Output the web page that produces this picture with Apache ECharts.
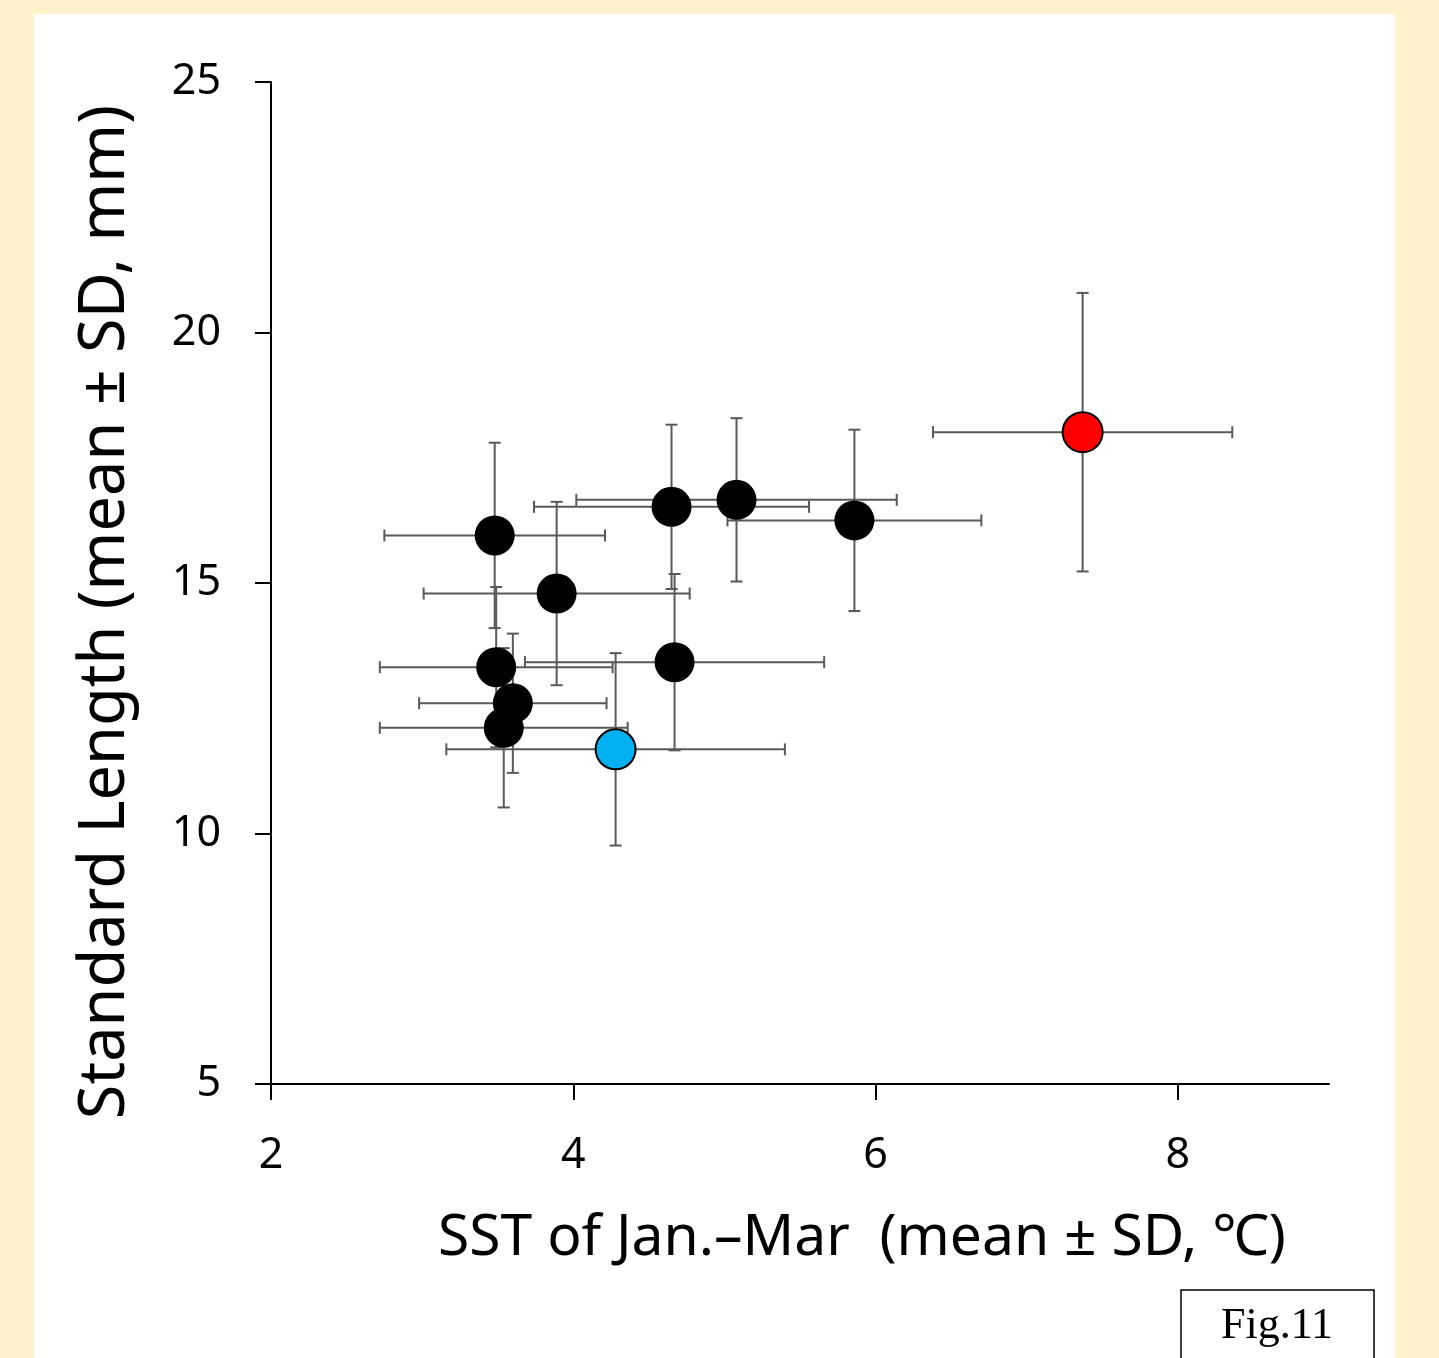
<!DOCTYPE html>
<html>
<head>
<meta charset="utf-8">
<script src="https://cdn.jsdelivr.net/npm/echarts@6/dist/echarts.min.js"></script>
<style>
html,body{margin:0;padding:0;background:#FFF2CC;}
#main{width:1439px;height:1358px;}
</style>
</head>
<body>
<div id="main"></div>
<script>
// ---- data ----
const xTicks = [2, 4, 6, 8];
const yTicks = [5, 10, 15, 20, 25];

// black points
const blackSST = [3.48, 3.89, 4.65, 5.08, 5.86, 3.49, 4.67, 3.60, 3.54];
const blackSSTsd = [0.73, 0.88, 0.91, 1.06, 0.84, 0.77, 0.99, 0.62, 0.82];
const blackSL = [15.95, 14.79, 16.52, 16.66, 16.25, 13.32, 13.42, 12.60, 12.11];
const blackSLsd = [1.85, 1.83, 1.64, 1.63, 1.81, 1.60, 1.76, 1.39, 1.59];

// blue point
const blueSST = [4.28];
const blueSSTsd = [1.12];
const blueSL = [11.68];
const blueSLsd = [1.92];

// red point
const redSST = [7.37];
const redSSTsd = [0.99];
const redSL = [18.01];
const redSLsd = [2.78];

const xTitle = 'SST of Jan.\u2013Mar  (mean \u00B1 SD, \u2103)';
const yTitle = 'Standard Length (mean \u00B1 SD, mm)';
const figLabel = 'Fig.11';

// ---- build ----
function pts(xs, ys) { return xs.map((x, i) => [x, ys[i]]); }
function errs(xs, xsd, ys, ysd) { return xs.map((x, i) => [x, ys[i], xsd[i], ysd[i]]); }

const allErr = errs(blackSST, blackSSTsd, blackSL, blackSLsd)
  .concat(errs(blueSST, blueSSTsd, blueSL, blueSLsd))
  .concat(errs(redSST, redSSTsd, redSL, redSLsd));

const ERR_COLOR = '#595959';
const CAP = 6;

function renderErr(params, api) {
  const x = api.value(0), y = api.value(1), xsd = api.value(2), ysd = api.value(3);
  const c = api.coord([x, y]);
  const l = api.coord([x - xsd, y]);
  const r = api.coord([x + xsd, y]);
  const t = api.coord([x, y + ysd]);
  const b = api.coord([x, y - ysd]);
  const st = { stroke: ERR_COLOR, lineWidth: 2 };
  const line = (x1, y1, x2, y2) => ({ type: 'line', shape: { x1, y1, x2, y2 }, style: st });
  return {
    type: 'group',
    children: [
      line(l[0], c[1], r[0], c[1]),
      line(c[0], t[1], c[0], b[1]),
      line(l[0], c[1] - CAP, l[0], c[1] + CAP),
      line(r[0], c[1] - CAP, r[0], c[1] + CAP),
      line(c[0] - CAP, t[1], c[0] + CAP, t[1]),
      line(c[0] - CAP, b[1], c[0] + CAP, b[1])
    ]
  };
}

const FONT = '"Noto Sans", "Open Sans", sans-serif';

const chart = echarts.init(document.getElementById('main'), null, { renderer: 'canvas' });
chart.setOption({
  backgroundColor: '#FFF2CC',
  animation: false,
  graphic: [
    { type: 'rect', z: -10, shape: { x: 34, y: 14, width: 1361, height: 1400 }, style: { fill: '#FFFFFF' } },
    {
      type: 'group', z: 10,
      children: [
        { type: 'rect', shape: { x: 1181, y: 1290, width: 193, height: 90 }, style: { fill: '#FFFFFF', stroke: '#000000', lineWidth: 1.5 } },
        { type: 'text', style: { x: 1277, y: 1326, text: figLabel, font: '44px "Liberation Serif", "DejaVu Serif", serif', fill: '#000', align: 'center', verticalAlign: 'middle' } }
      ]
    }
  ],
  grid: { left: 271, top: 82, right: 110, bottom: 274, containLabel: false },
  xAxis: {
    type: 'value', min: 2, max: 9, interval: 2,
    splitLine: { show: false },
    axisLine: { onZero: false, lineStyle: { color: '#000', width: 2 } },
    axisTick: { length: 16, lineStyle: { color: '#000', width: 2 }, customValues: xTicks },
    axisLabel: { customValues: xTicks, margin: 50, fontSize: 43, color: '#000', fontFamily: FONT },
    name: xTitle, nameLocation: 'middle', nameGap: 126,
    nameTextStyle: { fontSize: 57, color: '#000', fontFamily: FONT, padding: [0, 0, 0, 124] }
  },
  yAxis: {
    type: 'value', min: 5, max: 25, interval: 5,
    splitLine: { show: false },
    axisLine: { onZero: false, lineStyle: { color: '#000', width: 2 } },
    axisTick: { length: 16, lineStyle: { color: '#000', width: 2 }, customValues: yTicks },
    axisLabel: { customValues: yTicks, margin: 50, fontSize: 43, color: '#000', fontFamily: FONT },
    name: yTitle, nameLocation: 'middle', nameGap: 133,
    nameTextStyle: { fontSize: 63, color: '#000', fontFamily: FONT, padding: [0, 58, 0, 0] }
  },
  series: [
    { type: 'custom', name: 'SD', renderItem: renderErr, data: allErr, z: 1, silent: true },
    { type: 'scatter', name: 'black', data: pts(blackSST, blackSL), symbolSize: 40, z: 3,
      itemStyle: { color: '#000000', opacity: 1 } },
    { type: 'scatter', name: 'blue', data: pts(blueSST, blueSL), symbolSize: 40, z: 3,
      itemStyle: { color: '#00B0F0', borderColor: '#000', borderWidth: 2, opacity: 1 } },
    { type: 'scatter', name: 'red', data: pts(redSST, redSL), symbolSize: 40, z: 3,
      itemStyle: { color: '#FF0000', borderColor: '#000', borderWidth: 2, opacity: 1 } }
  ]
});
</script>
</body>
</html>
